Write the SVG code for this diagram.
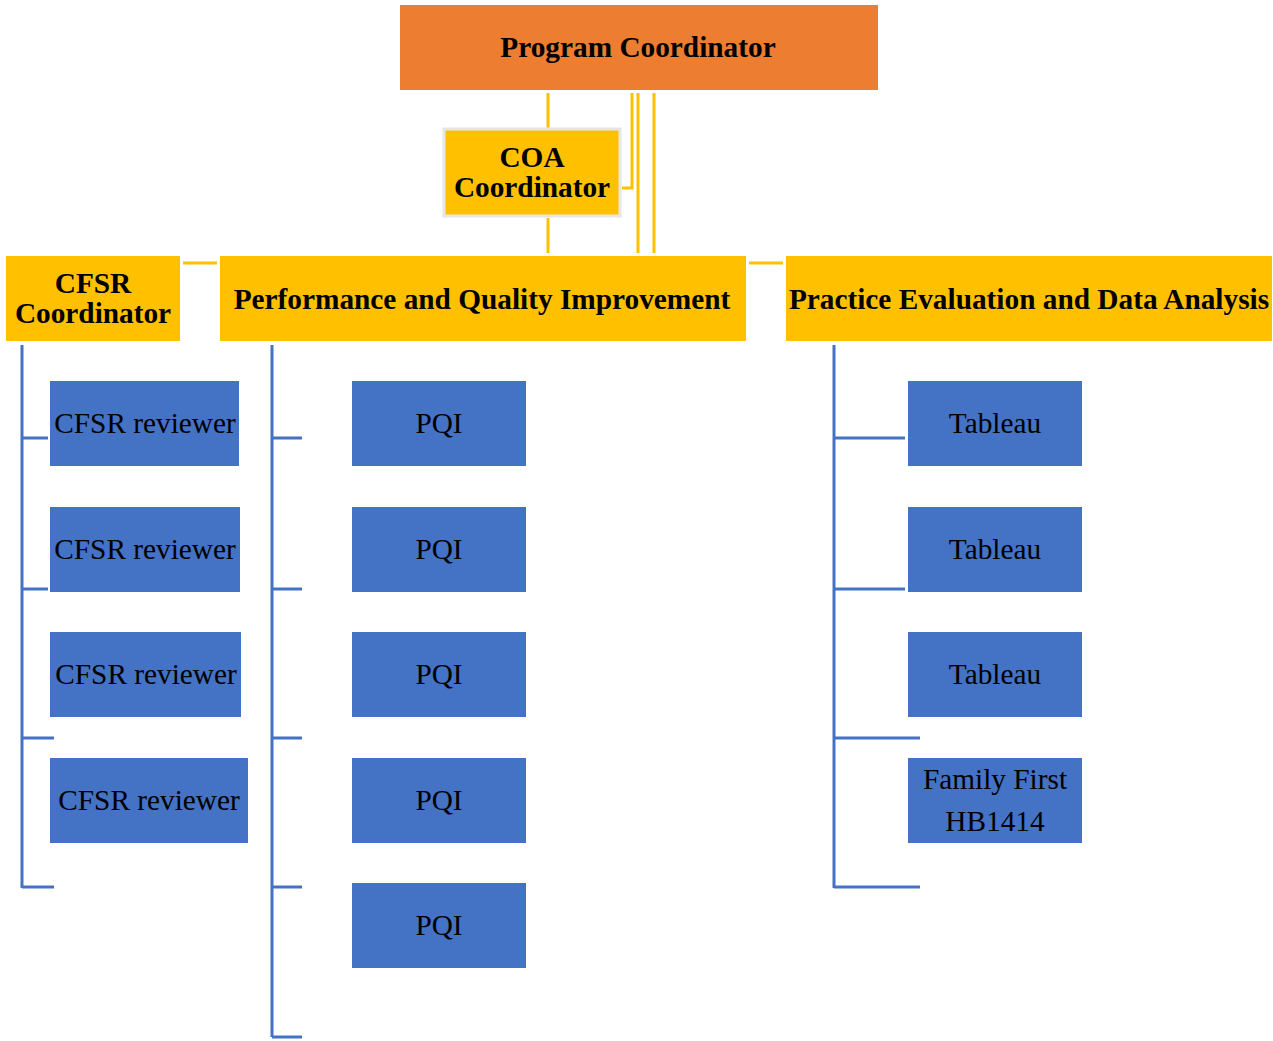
<svg xmlns="http://www.w3.org/2000/svg" width="1273" height="1041" viewBox="0 0 1273 1041">
<style>
.y{fill:#FFC000}
.b{fill:#4472C4}
.hd{font-family:"Liberation Serif","Times New Roman",serif;font-weight:bold;font-size:29.3px;fill:#000;text-anchor:middle}
.tx{font-family:"Liberation Serif","Times New Roman",serif;font-size:29.3px;fill:#000;text-anchor:middle}
.yl{stroke:#FFC000;stroke-width:3;fill:none}
.bl{stroke:#4472C4;stroke-width:3;fill:none}
</style>
<rect width="1273" height="1041" fill="#fff"/>
<g id="connectors">
<path class="yl" d="M548 93V128M548 218V253M632 93V188H622M638 93V253M654 93V253M183 263H217M749 263H783"/>
<path class="bl" d="M22 345V888M22 438H48M22 589H48M22 738H54M22 887H54"/>
<path class="bl" d="M272 345V1037M272 438H302M272 589H302M272 738H302M272 887H302M272 1037H302"/>
<path class="bl" d="M834 345V888M834 438H905M834 589H905M834 738H920M834 887H920"/>
</g>
<g id="program-coordinator"><rect x="400" y="5" width="478" height="85" fill="#ED7D31"/><text class="hd" x="638" y="57">Program Coordinator</text></g>
<g id="coa-coordinator"><rect x="444" y="129" width="176" height="87" class="y" stroke="#E7E6E6" stroke-width="3"/><text class="hd" x="532" y="167">COA</text><text class="hd" x="532" y="197">Coordinator</text></g>
<g id="cfsr-coordinator"><rect x="6" y="256" width="174" height="85" class="y"/><text class="hd" x="93" y="293">CFSR</text><text class="hd" x="93" y="323">Coordinator</text></g>
<g id="pqi-dept"><rect x="220" y="256" width="526" height="85" class="y"/><text class="hd" x="482" y="309">Performance and Quality Improvement</text></g>
<g id="peda-dept"><rect x="786" y="256" width="486" height="85" class="y"/><text class="hd" x="1029" y="309">Practice Evaluation and Data Analysis</text></g>
<g id="cfsr-1"><rect x="50" y="381" width="189" height="85" class="b"/><text class="tx" x="145" y="433">CFSR reviewer</text></g>
<g id="cfsr-2"><rect x="50" y="507" width="190" height="85" class="b"/><text class="tx" x="145" y="559">CFSR reviewer</text></g>
<g id="cfsr-3"><rect x="50" y="632" width="191" height="85" class="b"/><text class="tx" x="146" y="684">CFSR reviewer</text></g>
<g id="cfsr-4"><rect x="50" y="758" width="198" height="85" class="b"/><text class="tx" x="149" y="810">CFSR reviewer</text></g>
<g id="pqi-1"><rect x="352" y="381" width="174" height="85" class="b"/><text class="tx" x="439" y="433">PQI</text></g>
<g id="pqi-2"><rect x="352" y="507" width="174" height="85" class="b"/><text class="tx" x="439" y="559">PQI</text></g>
<g id="pqi-3"><rect x="352" y="632" width="174" height="85" class="b"/><text class="tx" x="439" y="684">PQI</text></g>
<g id="pqi-4"><rect x="352" y="758" width="174" height="85" class="b"/><text class="tx" x="439" y="810">PQI</text></g>
<g id="pqi-5"><rect x="352" y="883" width="174" height="85" class="b"/><text class="tx" x="439" y="935">PQI</text></g>
<g id="tableau-1"><rect x="908" y="381" width="174" height="85" class="b"/><text class="tx" x="995" y="433">Tableau</text></g>
<g id="tableau-2"><rect x="908" y="507" width="174" height="85" class="b"/><text class="tx" x="995" y="559">Tableau</text></g>
<g id="tableau-3"><rect x="908" y="632" width="174" height="85" class="b"/><text class="tx" x="995" y="684">Tableau</text></g>
<g id="family-first"><rect x="908" y="758" width="174" height="85" class="b"/><text class="tx" x="995" y="789">Family First</text><text class="tx" x="995" y="831">HB1414</text></g>
</svg>
